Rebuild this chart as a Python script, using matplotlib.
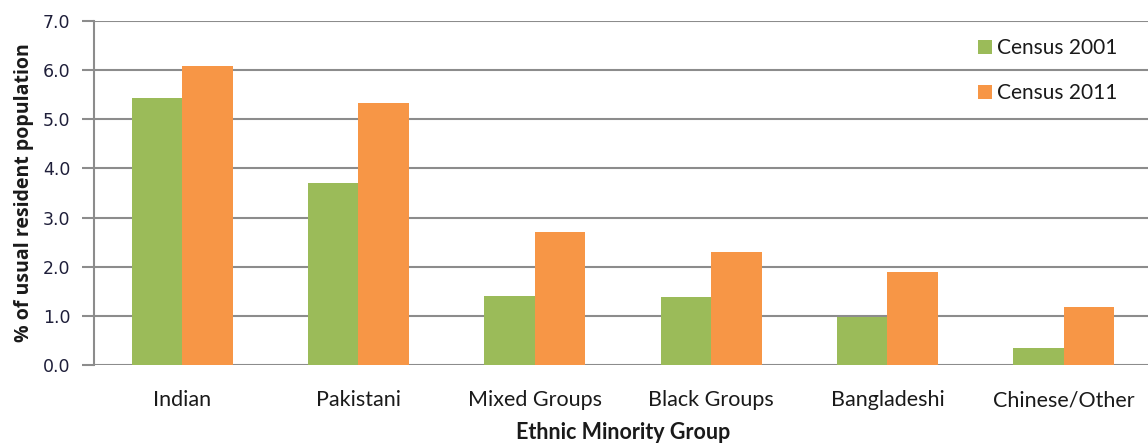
import matplotlib
matplotlib.use("Agg")
import matplotlib.pyplot as plt
import numpy as np

categories = ["Indian", "Pakistani", "Mixed Groups", "Black Groups", "Bangladeshi", "Chinese/Other"]
census_2001 = [5.43, 3.70, 1.41, 1.38, 0.98, 0.35]
census_2011 = [6.09, 5.33, 2.71, 2.30, 1.90, 1.19]
series_names = ["Census 2001", "Census 2011"]
yticks = [0.0, 1.0, 2.0, 3.0, 4.0, 5.0, 6.0, 7.0]

GREEN = "#9bbb59"
ORANGE = "#f79646"
GRID = "#8c8c8c"
TXT = "#1a1a1a"

fig = plt.figure(figsize=(11.48, 4.44), dpi=100)
ax = fig.add_axes([94/1148, 1-365/444, (1152-94)/1148, (365-21)/444])

x = np.arange(len(categories))
w = 0.287
ax.bar(x - w/2, census_2001, w, color=GREEN, label=series_names[0], zorder=3)
ax.bar(x + w/2, census_2011, w, color=ORANGE, label=series_names[1], zorder=3)

ax.set_xlim(-0.5, len(categories) - 0.5)
ax.set_ylim(0, 7.0)
ax.set_yticks(yticks)
ax.set_yticklabels([f"{v:.1f}" for v in yticks], fontfamily="DejaVu Sans", fontsize=12.5, color="#1f1f3a")
ax.set_xticks(x)
ax.set_xticklabels(categories, fontfamily="Lato", fontsize=15.5, color=TXT)
ax.tick_params(axis="x", length=0, pad=18)
ax.tick_params(axis="y", length=9, width=1.5, color=GRID, pad=8)

ax.yaxis.grid(True, color=GRID, linewidth=1.5, zorder=0)
ax.set_axisbelow(True)
for s in ["top", "right", "bottom"]:
    ax.spines[s].set_visible(False)
ax.spines["left"].set_color(GRID)
ax.spines["left"].set_linewidth(1.5)

ax.set_ylabel("% of usual resident population", fontfamily="Open Sans", fontweight="bold",
              fontsize=14, color=TXT, labelpad=6)
ax.set_xlabel("Ethnic Minority Group", fontfamily="Lato", fontweight="bold",
              fontsize=15.5, color=TXT, labelpad=8.5)

leg = ax.legend(loc="upper left", bbox_to_anchor=(978/1148, 1-38/444),
                bbox_transform=fig.transFigure, frameon=False,
                prop={"family": "Lato", "size": 15}, handlelength=0.65, handleheight=0.65,
                handletextpad=0.25, labelspacing=1.2, borderaxespad=0, borderpad=0)
for t in leg.get_texts():
    t.set_color(TXT)

fig.savefig("out.png", dpi=100, facecolor="white")
